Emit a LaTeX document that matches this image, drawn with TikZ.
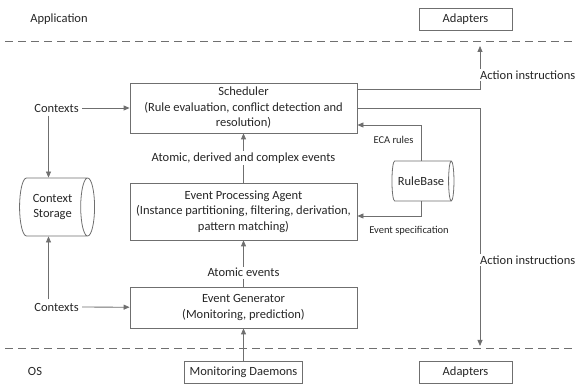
\documentclass[tikz,border=0pt]{standalone}
\usepackage{fontspec}
\setmainfont{Carlito}
\usetikzlibrary{arrows.meta,shapes.geometric}
\definecolor{linegray}{HTML}{6F6F6F}
\definecolor{textgray}{HTML}{262626}

\begin{document}
\begin{tikzpicture}[x=1pt, y=-1pt,
    every node/.style={text=textgray, font=\fontsize{12.5}{15.5}\selectfont},
    box/.style={draw=linegray, line width=0.8pt, rectangle, align=center, minimum width=227pt},
    store/.style={draw=linegray, line width=0.8pt, cylinder, aspect=0.5, align=center, inner sep=1pt},
    arr/.style={draw=linegray, line width=0.8pt, -{Triangle[length=6pt, width=5pt]}},
    lbl/.style={fill=white, inner sep=1.5pt},
    small/.style={font=\fontsize{10.5}{12}\selectfont},
    layer/.style={draw=linegray, line width=0.8pt, dash pattern=on 8pt off 5pt}]

    \useasboundingbox (0,0) rectangle (576,387);

    % Layers
    \node at (59, 19) (app) {Application};
    \node at (35, 371) (os) {OS};
    \coordinate (uppl) at (5, 41);
    \coordinate (uppr) at (576, 41);
    \coordinate (lowl) at (5, 348);
    \coordinate (lowr) at (576, 348);
    \draw[layer] (uppl) -- (uppr);
    \draw[layer] (lowl) -- (lowr);

    % Nodes
    \node at (465.5, 19.5) (adaptop) [box, minimum width=93pt, minimum height=22pt] {Adapters};
    \node at (465.5, 372.5) (adapbot) [box, minimum width=93pt, minimum height=22pt] {Adapters};
    \node at (243.5, 372.5) (daemons) [box, minimum width=118pt, minimum height=22pt] {Monitoring Daemons};
    \node at (243.5, 108) (sched) [box, minimum height=50pt] {Scheduler\\(Rule evaluation, conflict detection and\\resolution)};
    \node at (243.5, 211.5) (epa) [box, minimum height=57pt] {Event Processing Agent\\(Instance partitioning, filtering, derivation,\\pattern matching)};
    \node at (243.5, 307.5) (gen) [box, minimum height=41pt] {Event Generator\\(Monitoring, prediction)};
    \node at (52.5, 207) (storage) [store, minimum width=58pt, minimum height=75pt] {Context\\Storage};
    \node at (421, 181) (rules) [store, minimum width=40pt, minimum height=62pt] {RuleBase};
    \node at (56.5, 108) (ctxtop) {Contexts};
    \node at (56.5, 307) (ctxbot) {Contexts};
    \coordinate (actup) at (480, 46);
    \coordinate (actdown) at (480, 346);

    % Arrows
    \draw[arr] (ctxtop) -- (sched);
    \draw[arr] (ctxbot) -- (gen);
    \draw[arr] ([xshift=-8pt]ctxtop.south) -- ([xshift=-8pt]ctxtop.south |- storage.north);
    \draw[arr] ([xshift=-8pt]ctxbot.north) -- ([xshift=-8pt]ctxbot.north |- storage.south);
    \draw[arr] (epa) -- node[lbl] {Atomic, derived and complex events} (sched);
    \draw[arr] (gen) -- node[lbl, pos=0.3] {Atomic events} (epa);
    \draw[arr] (daemons) -- (gen);
    \draw[arr] ([yshift=19pt]sched.east) -| (actup);
    \draw[arr] (sched.east) -| (actdown);
    \draw[arr] (rules.north) |- ([yshift=-17pt]sched.east);
    \draw[arr] (rules.south) |- ([yshift=-4.5pt]epa.east);

    % Labels
    \node at (477, 75) [lbl, anchor=west, inner xsep=3pt] {Action instructions};
    \node at (477, 260) [lbl, anchor=west, inner xsep=3pt] {Action instructions};
    \node at (417, 140) [small, anchor=east] {ECA rules};
    \node at (409, 231) [small] {Event specification};

\end{tikzpicture}
\end{document}
